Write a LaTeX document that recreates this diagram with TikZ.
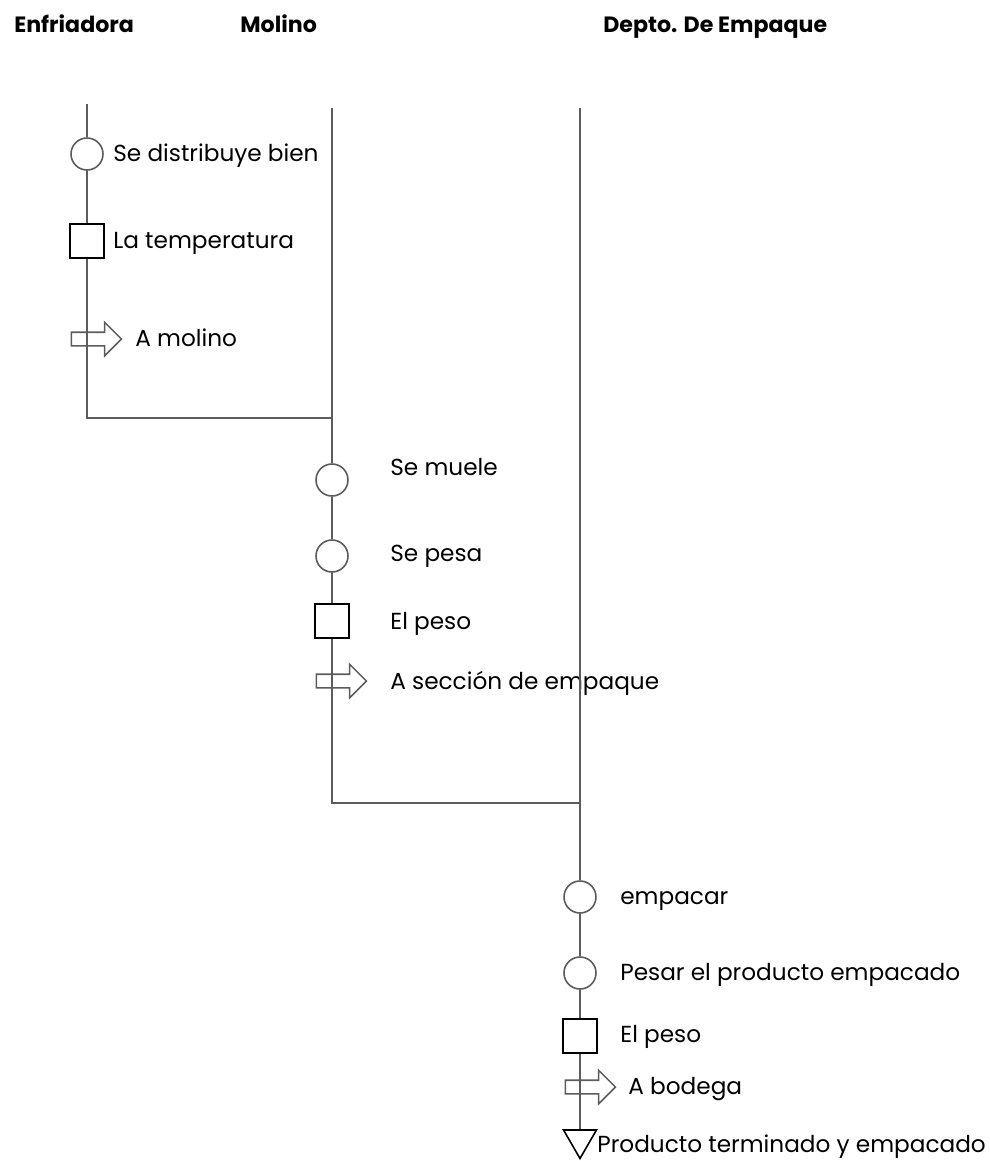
\documentclass[tikz,border=0pt]{standalone}
\usepackage{fontspec}
\setmainfont{Poppins}
\usetikzlibrary{shapes.geometric,shapes.arrows}
\definecolor{flowgray}{HTML}{5C5C5C}
\tikzset{
  opc/.style={draw=flowgray,circle,fill=white,line width=0.9pt,minimum size=0.64cm,inner sep=0pt},
  insp/.style={draw=black,fill=white,line width=0.9pt,minimum size=0.68cm,inner sep=0pt},
  move/.style={draw=flowgray,single arrow,line width=0.9pt,inner xsep=0pt,inner ysep=0.12cm,
    minimum height=1cm,single arrow head extend=0.2cm},
  store/.style={draw=black,regular polygon,regular polygon sides=3,shape border rotate=180,
    line width=0.9pt,minimum size=0.76cm,inner sep=0pt},
  lbl/.style={anchor=base west,inner sep=0pt,font=\fontsize{13.2}{15}\selectfont},
  head/.style={lbl,font=\bfseries\fontsize{12.6}{15}\selectfont},
  flow/.style={draw=flowgray,line width=1pt}
}

\begin{document}
\begin{tikzpicture}[x=0.02cm,y=-0.02cm]
  \useasboundingbox (0,0) rectangle (990,1161);
  % headers
  \node[head] (hEnf) at (14,32) {Enfriadora};
  \node[head] (hMol) at (240,32) {Molino};
  \node[head] (hEmp) at (603,32) {Depto. De Empaque};

  % Enfriadora
  \coordinate (top1) at (87,104);
  \node[opc] (c1) at (87,154) {};
  \node[lbl] (t1) at (113,161) {Se distribuye bien};
  \node[insp] (s1) at (87,241) {};
  \node[lbl] (t2) at (113,248) {La temperatura};
  \node[move] (m1) at (93,339) {};
  \node[lbl] (t3) at (135,346) {A molino};
  \coordinate (bot1) at (87,418);
  \coordinate (join1) at (332,418);
  \draw[flow] (top1) -- (c1.north);
  \draw[flow] (c1.south) -- (s1.north);
  \draw[flow] (s1.south) -- (bot1) -- (join1);

  % Molino
  \coordinate (top2) at (332,108);
  \node[opc] (c2) at (332,480) {};
  \node[lbl] (t4) at (390,475) {Se muele};
  \node[opc] (c3) at (332,556) {};
  \node[lbl] (t5) at (390,561) {Se pesa};
  \node[insp] (s2) at (332,621) {};
  \node[lbl] (t6) at (390,629) {El peso};
  \node[move] (m2) at (338,681) {};
  \node[lbl] (t7) at (390,689) {A sección de empaque};
  \coordinate (bot2) at (332,803);
  \coordinate (join2) at (580,803);
  \draw[flow] (top2) -- (c2.north);
  \draw[flow] (c2.south) -- (c3.north);
  \draw[flow] (c3.south) -- (s2.north);
  \draw[flow] (s2.south) -- (bot2) -- (join2);

  % Depto. De Empaque
  \coordinate (top3) at (580,108);
  \node[opc] (c4) at (580,897) {};
  \node[lbl] (t8) at (620,904) {empacar};
  \node[opc] (c5) at (580,973) {};
  \node[lbl] (t9) at (620,980) {Pesar el producto empacado};
  \node[insp] (s3) at (580,1036) {};
  \node[lbl] (t10) at (620,1042) {El peso};
  \node[move] (m3) at (587,1087) {};
  \node[lbl] (t11) at (628,1094) {A bodega};
  \node[store] (d1) at (580,1139.5) {};
  \node[lbl] (t12) at (597,1152) {Producto terminado y empacado};
  \draw[flow] (top3) -- (c4.north);
  \draw[flow] (c4.south) -- (c5.north);
  \draw[flow] (c5.south) -- (s3.north);
  \draw[flow] (s3.south) -- (d1.north);
\end{tikzpicture}
\end{document}
